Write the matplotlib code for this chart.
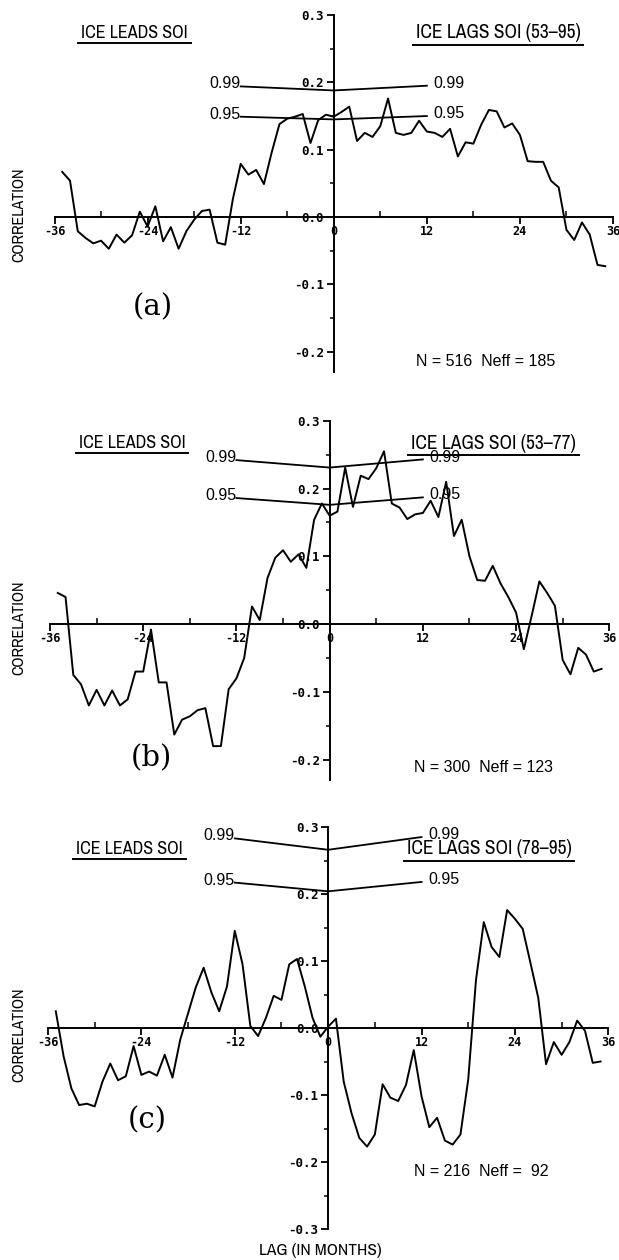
import matplotlib
matplotlib.use("Agg")
import matplotlib.pyplot as plt
from matplotlib.lines import Line2D
from matplotlib import font_manager

# decalages en mois (la glace par rapport au SOI)
lags = list(range(-35, 36))

# correlations, panneaux (a), (b), (c)
corr_a = [0.067, 0.054, -0.021, -0.031, -0.039, -0.035, -0.047, -0.026, -0.038, -0.027,
          0.008, -0.014, 0.016, -0.036, -0.015, -0.047, -0.021, -0.004, 0.009, 0.011,
          -0.038, -0.041, 0.027, 0.079, 0.063, 0.070, 0.049, 0.096, 0.138, 0.146,
          0.149, 0.153, 0.110, 0.144, 0.152, 0.149, 0.156, 0.164, 0.113, 0.125,
          0.119, 0.135, 0.176, 0.125, 0.122, 0.125, 0.143, 0.127, 0.125, 0.119,
          0.131, 0.090, 0.111, 0.109, 0.137, 0.159, 0.157, 0.133, 0.139, 0.122,
          0.083, 0.082, 0.082, 0.054, 0.044, -0.019, -0.034, -0.008, -0.026, -0.071,
          -0.073]
corr_b = [0.046, 0.040, -0.075, -0.089, -0.120, -0.097, -0.120, -0.098, -0.120, -0.111,
          -0.070, -0.070, -0.008, -0.086, -0.086, -0.163, -0.141, -0.136, -0.127, -0.124,
          -0.180, -0.180, -0.096, -0.080, -0.050, 0.026, 0.006, 0.068, 0.098, 0.109,
          0.092, 0.103, 0.083, 0.154, 0.178, 0.160, 0.166, 0.231, 0.173, 0.219,
          0.214, 0.230, 0.255, 0.178, 0.172, 0.155, 0.162, 0.164, 0.182, 0.158,
          0.210, 0.130, 0.154, 0.100, 0.065, 0.064, 0.086, 0.060, 0.040, 0.017,
          -0.037, 0.012, 0.063, 0.046, 0.027, -0.053, -0.074, -0.035, -0.045, -0.070,
          -0.066]
corr_c = [0.025, -0.042, -0.090, -0.115, -0.113, -0.117, -0.080, -0.053, -0.078, -0.072,
          -0.027, -0.070, -0.065, -0.071, -0.040, -0.074, -0.017, 0.022, 0.061, 0.090,
          0.053, 0.025, 0.062, 0.145, 0.095, 0.003, -0.012, 0.015, 0.048, 0.042,
          0.095, 0.103, 0.062, 0.015, -0.013, 0.002, 0.014, -0.080, -0.127, -0.164,
          -0.177, -0.159, -0.084, -0.104, -0.109, -0.085, -0.033, -0.102, -0.148, -0.134,
          -0.168, -0.174, -0.159, -0.077, 0.072, 0.158, 0.121, 0.106, 0.176, 0.163,
          0.148, 0.097, 0.045, -0.054, -0.021, -0.040, -0.021, 0.011, -0.004, -0.052,
          -0.050]

# seuils de signification (lag -12, 0, 12)
sig_lags = [-12, 0, 12]
sig99_a = [0.194, 0.188, 0.195]
sig95_a = [0.149, 0.145, 0.150]
sig99_b = [0.242, 0.231, 0.243]
sig95_b = [0.186, 0.176, 0.187]
sig99_c = [0.283, 0.266, 0.285]
sig95_c = [0.217, 0.204, 0.218]

xticks = [-36, -24, -12, 0, 12, 24, 36]
xtick_labels = ["-36", "-24", "-12", "0", "12", "24", "36"]
xticks_minor = [-30, -18, -6, 6, 18, 30]
yticks_ab = [-0.2, -0.1, 0.0, 0.1, 0.2, 0.3]
ylabels_ab = ["-0.2", "-0.1", "0.0", "0.1", "0.2", "0.3"]
yticks_c = [-0.3, -0.2, -0.1, 0.0, 0.1, 0.2, 0.3]
ylabels_c = ["-0.3", "-0.2", "-0.1", "0.0", "0.1", "0.2", "0.3"]

lags_titles = ["ICE LAGS SOI (53\u201395)", "ICE LAGS SOI (53\u201377)", "ICE LAGS SOI (78\u201395)"]
tags = ["(a)", "(b)", "(c)"]
n_texts = ["N = 516  Neff = 185", "N = 300  Neff = 123", "N = 216  Neff =  92"]

# polices
noms = {f.name for f in font_manager.fontManager.ttflist}
etroite = ["Archivo Narrow", "DejaVu Sans"] if "Archivo Narrow" in noms else ["DejaVu Sans"]
sans = ["Liberation Sans", "DejaVu Sans"]

W, H = 619, 1260
fig = plt.figure(figsize=(W / 100, H / 100), dpi=100)


def px(x, y):
    # pixels de l'image -> fraction de la figure
    return x / W, 1 - y / H


# position des panneaux : (gauche, droite, haut, bas) en pixels
panneaux = [
    dict(box=(54.5, 613, 15, 372), ylo=-0.23, corr=corr_a, s99=sig99_a, s95=sig95_a,
         yt=yticks_ab, yl=ylabels_ab, titre_y=33, tag_xy=(153, 307), n_xy=(486, 361), corr_y=215),
    dict(box=(50, 609.3, 420.8, 780), ylo=-0.23, corr=corr_b, s99=sig99_b, s95=sig95_b,
         yt=yticks_ab, yl=ylabels_ab, titre_y=443, tag_xy=(151, 758), n_xy=(484, 768), corr_y=628),
    dict(box=(48, 608.3, 827, 1229), ylo=-0.3, corr=corr_c, s99=sig99_c, s95=sig95_c,
         yt=yticks_c, yl=ylabels_c, titre_y=849, tag_xy=(147, 1120), n_xy=(481, 1172), corr_y=1035),
]

textes_soulignes = []
for i, p in enumerate(panneaux):
    g, d, h, b = p["box"]
    ax = fig.add_axes([g / W, 1 - b / H, (d - g) / W, (b - h) / H])
    ax.patch.set_visible(False)
    ax.set_xlim(-36, 36)
    ax.set_ylim(p["ylo"], 0.3)
    ax.spines["left"].set_position(("data", 0))
    ax.spines["bottom"].set_position(("data", 0))
    ax.spines["top"].set_visible(False)
    ax.spines["right"].set_visible(False)
    ax.spines["left"].set_linewidth(1.4)
    ax.spines["bottom"].set_linewidth(1.4)

    ax.set_xticks(xticks)
    ax.set_xticklabels(xtick_labels)
    ax.set_xticks(xticks_minor, minor=True)
    ax.set_yticks(p["yt"])
    ax.set_yticklabels(p["yl"])
    ax.set_yticks([v + 0.05 for v in p["yt"][:-1]], minor=True)
    ax.tick_params(axis="x", which="major", direction="out", length=5, width=1.3, pad=1)
    ax.tick_params(axis="x", which="minor", direction="in", length=4, width=1.1)
    ax.tick_params(axis="y", which="major", direction="out", length=5, width=1.3, pad=2)
    ax.tick_params(axis="y", which="minor", direction="out", length=3, width=1.1)
    for lab in ax.get_xticklabels():
        lab.set_fontfamily("DejaVu Sans Mono")
        lab.set_fontweight("bold")
        lab.set_fontsize(8.5)
    for lab in ax.get_yticklabels():
        lab.set_fontfamily("DejaVu Sans Mono")
        lab.set_fontweight("bold")
        lab.set_fontsize(9)

    # courbe de correlation
    ax.plot(lags, p["corr"], color="black", lw=1.4)

    # seuils 0.99 et 0.95
    for sig, nom in [(p["s99"], "0.99"), (p["s95"], "0.95")]:
        ax.plot(sig_lags, sig, color="black", lw=1.3)
        ax.annotate(nom, xy=(sig_lags[0], sig[0]), xytext=(0, -1.5), textcoords="offset points",
                    ha="right", va="baseline", fontsize=11.5, family=sans)
        ax.annotate(nom, xy=(sig_lags[-1], sig[-1]), xytext=(5, -1.5), textcoords="offset points",
                    ha="left", va="baseline", fontsize=11.5, family=sans)

    # textes
    t1 = fig.text(*px(134.5 - 2.5 * i, p["titre_y"]), "ICE LEADS SOI", ha="center", va="center",
                  fontsize=13, family=etroite)
    t2 = fig.text(*px(498 - 4.5 * i, p["titre_y"]), lags_titles[i], ha="center", va="center",
                  fontsize=14, family=etroite)
    textes_soulignes += [t1, t2]
    fig.text(*px(*p["tag_xy"]), tags[i], ha="center", va="center", fontsize=21, family="DejaVu Serif")
    fig.text(*px(*p["n_xy"]), n_texts[i], ha="center", va="center", fontsize=11.5, family=sans)
    fig.text(*px(19, p["corr_y"]), "CORRELATION", ha="center", va="center", rotation=90,
             fontsize=11.5, family=etroite)

fig.text(*px(320, 1250), "LAG (IN MONTHS)", ha="center", va="center", fontsize=12.5, family=etroite)

# soulignement des titres
fig.canvas.draw()
rend = fig.canvas.get_renderer()
for t in textes_soulignes:
    bb = t.get_window_extent(renderer=rend)
    y = bb.y0 - 2
    fig.add_artist(Line2D([(bb.x0 - 3) / W, (bb.x1 + 3) / W], [y / H, y / H],
                          transform=fig.transFigure, color="black", lw=1.4))

fig.savefig("out.png", dpi=100)
